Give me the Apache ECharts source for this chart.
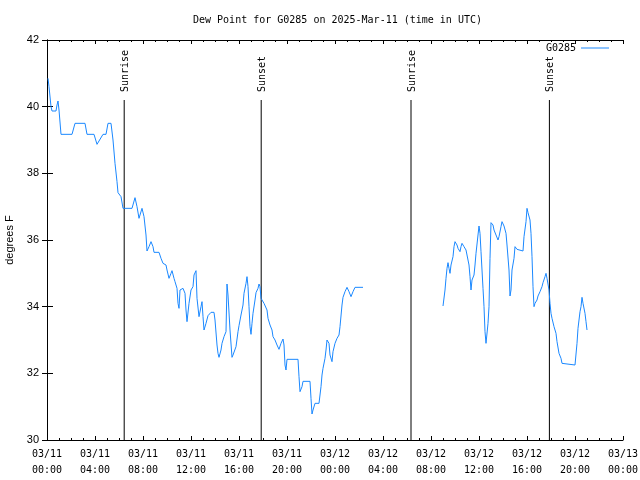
<!DOCTYPE html>
<html>
<head>
<meta charset="utf-8">
<script src="https://cdn.jsdelivr.net/npm/echarts@6/dist/echarts.min.js"></script>
<style>html,body{margin:0;padding:0;background:#fff}#c{width:640px;height:480px}</style>
</head>
<body>
<div id="c"></div>
<script>
// minutes since 2025-03-11 00:00 UTC
const minutes = [5,10,20,25,45,50,55,60,70,125,140,190,200,235,250,260,280,295,305,320,330,340,350,355,370,380,425,440,450,460,475,485,495,500,510,520,530,535,560,570,580,595,600,610,620,625,635,640,650,655,660,665,680,690,695,700,710,720,730,735,745,750,760,770,775,780,785,795,805,820,835,840,850,855,860,870,875,885,895,900,905,915,925,930,940,945,955,960,970,980,985,995,1000,1005,1010,1015,1020,1025,1030,1040,1045,1055,1060,1065,1070,1075,1085,1100,1105,1115,1125,1130,1140,1150,1160,1170,1180,1185,1190,1195,1200,1255,1260,1265,1275,1280,1315,1320,1325,1330,1340,1360,1370,1375,1380,1390,1395,1400,1410,1415,1425,1430,1440,1450,1460,1465,1475,1480,1490,1500,1510,1520,1530,1540,1580,1700,1980,1990,1995,2000,2005,2010,2015,2020,2030,2035,2040,2050,2055,2065,2070,2075,2085,2095,2100,2110,2115,2120,2125,2135,2140,2145,2155,2160,2165,2170,2180,2185,2190,2195,2205,2210,2215,2220,2230,2235,2245,2255,2260,2270,2275,2280,2285,2295,2300,2310,2315,2320,2325,2335,2340,2350,2355,2380,2385,2395,2400,2405,2415,2420,2425,2430,2435,2440,2450,2455,2465,2475,2480,2490,2495,2500,2510,2515,2520,2525,2535,2545,2550,2560,2570,2575,2580,2640,2650,2655,2660,2665,2670,2675,2680,2690,2695,2700];
const dewF = [40.85,40.6,40.0,39.87,39.87,40.05,40.17,39.9,39.17,39.17,39.5,39.5,39.17,39.17,38.87,38.87,39.17,39.17,39.5,39.5,39.0,38.3,37.75,37.42,37.3,36.95,36.95,37.27,37.0,36.65,36.95,36.7,36.15,35.67,35.8,35.95,35.8,35.63,35.63,35.45,35.3,35.25,35.1,34.85,35.0,35.08,34.85,34.75,34.55,34.1,33.95,34.5,34.55,34.4,33.9,33.55,34.1,34.5,34.6,34.95,35.08,34.25,33.7,34.0,34.15,33.7,33.3,33.5,33.73,33.83,33.83,33.6,32.85,32.6,32.48,32.7,32.9,33.1,33.25,34.68,34.35,33.3,32.48,32.55,32.55,32.8,33.25,33.43,33.75,34.05,34.4,34.7,34.9,34.6,34.0,33.4,33.17,33.5,33.8,34.2,34.42,34.55,34.68,34.6,34.25,34.2,34.1,33.9,33.65,33.45,33.3,33.1,33.0,32.85,32.72,32.9,33.03,32.85,32.25,32.1,32.42,32.42,31.9,31.45,31.6,31.76,31.76,31.25,30.78,30.9,31.1,31.1,31.6,31.95,32.15,32.45,32.7,33.0,32.9,32.55,32.35,32.65,32.9,33.05,33.15,33.4,34.05,34.28,34.45,34.58,34.45,34.3,34.45,34.58,34.58,null,34.02,34.5,34.85,35.15,35.32,35.15,35.0,35.25,35.5,35.8,35.95,35.85,35.75,35.65,35.8,35.9,35.8,35.7,35.55,35.25,34.9,34.5,34.8,34.95,35.25,35.6,36.15,36.42,36.2,35.65,34.55,34.0,33.25,32.9,33.5,34.0,35.45,36.52,36.45,36.3,36.15,36.0,36.1,36.4,36.55,36.6,36.42,36.2,35.85,35.1,34.32,34.5,35.1,35.45,35.8,35.72,35.67,35.67,36.1,36.55,36.95,36.82,36.6,36.2,35.5,34.6,34.0,34.1,34.2,34.32,34.45,34.6,34.72,34.9,35.0,34.85,34.5,34.1,33.8,33.65,33.4,33.2,32.95,32.6,32.45,32.3,32.25,32.25,32.9,33.35,33.6,33.85,34.0,34.28,34.1,33.8,33.55,33.3];
const xTickLabels = ['03/11\n00:00','03/11\n04:00','03/11\n08:00','03/11\n12:00','03/11\n16:00','03/11\n20:00','03/12\n00:00','03/12\n04:00','03/12\n08:00','03/12\n12:00','03/12\n16:00','03/12\n20:00','03/13\n00:00'];
const eventMinutes = [386, 1071, 1820, 2512];
const eventNames = ['Sunrise','Sunset','Sunrise','Sunset'];
const eventTop = 40.2;
const seriesName = 'G0285';

const mono = 'DejaVu Sans Mono';
const chart = echarts.init(document.getElementById('c'), null, {renderer:'canvas'});
const lineData = minutes.map((m,i)=>[m, dewF[i]]);
const evData = eventMinutes.map((m,i)=>[m, eventTop, eventNames[i]]);

const axisLine = {show:true, lineStyle:{color:'#000', width:1}};
chart.setOption({
  animation:false,
  backgroundColor:'#fff',
  title:{text:'Dew Point for G0285 on 2025-Mar-11 (time in UTC)', left:188, top:10,
    textStyle:{fontFamily:mono, fontSize:10, fontWeight:'normal', color:'#000'}},
  legend:{data:[seriesName], right:31, top:43, padding:0, align:'right', icon:'rect', itemWidth:28, itemHeight:1, itemGap:9,
    textStyle:{fontFamily:mono, fontSize:10, color:'#000'}},
  grid:{left:47, right:17, top:40, bottom:40, containLabel:false, outerBoundsMode:'none'},
  xAxis:[{type:'value', min:0, max:2880, interval:240,
    axisLine:axisLine,
    axisTick:{show:true, inside:true, length:4, lineStyle:{color:'#000'}},
    minorTick:{show:true, splitNumber:4, length:2, lineStyle:{color:'#000'}},
    splitLine:{show:false},
    axisLabel:{margin:6, fontFamily:mono, fontSize:10, color:'#000', lineHeight:16,
      formatter:(v)=>xTickLabels[Math.round(v/240)]}},
   {type:'value', position:'top', min:0, max:2880, interval:240,
    axisLine:axisLine,
    axisTick:{show:true, inside:true, length:4, lineStyle:{color:'#000'}},
    minorTick:{show:true, splitNumber:4, length:2, lineStyle:{color:'#000'}},
    splitLine:{show:false}, axisLabel:{show:false}}],
  yAxis:[{type:'value', min:30, max:42, interval:2,
    name:'degrees F', nameLocation:'middle', nameGap:32, nameRotate:90,
    nameTextStyle:{fontFamily:'Liberation Sans', fontSize:11, color:'#000'},
    axisLine:axisLine,
    axisTick:{show:true, inside:true, length:6, lineStyle:{color:'#000'}},
    splitLine:{show:false},
    axisLabel:{margin:8, fontFamily:'Liberation Sans', fontSize:11, color:'#000'}},
   {type:'value', position:'right', min:30, max:42, interval:2,
    axisLine:axisLine,
    axisTick:{show:true, inside:true, length:5, lineStyle:{color:'#000'}},
    splitLine:{show:false}, axisLabel:{show:false}}],
  series:[
    {name:'events', type:'custom', xAxisIndex:0, yAxisIndex:0, data:evData, z:1, silent:true,
      renderItem:(params, api)=>{
        const top = api.coord([api.value(0), api.value(1)]);
        const bot = api.coord([api.value(0), 30]);
        const name = eventNames[params.dataIndex];
        return {type:'group', children:[
          {type:'line', shape:{x1:top[0], y1:top[1], x2:bot[0], y2:bot[1]}, style:{stroke:'#000', lineWidth:1}},
          {type:'text', x:top[0]+1.5, y:top[1]-8, rotation:Math.PI/2,
            style:{text:name, align:'left', verticalAlign:'middle', fill:'#000', font:'10px "DejaVu Sans Mono"'}}
        ]};
      }},
    {name:seriesName, type:'line', xAxisIndex:0, yAxisIndex:0, data:lineData, showSymbol:false, symbol:'none',
      connectNulls:false, z:3,
      lineStyle:{color:'#1a88ff', width:1}, itemStyle:{color:'#1a88ff'}}
  ]
});
</script>
</body>
</html>
